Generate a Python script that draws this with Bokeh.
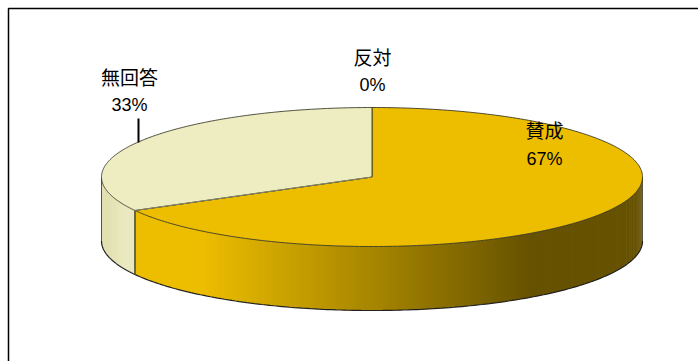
import numpy as np
from bokeh.plotting import figure
from bokeh.models import Range1d
from bokeh.core.properties import value
from bokeh.embed import file_html
from bokeh.resources import INLINE

# ---- data ----
categories = ["賛成", "反対", "無回答"]
shares = [67, 0, 33]
pct_labels = ["67%", "0%", "33%"]
top_colors = ["#EDBE00", "#C00000", "#EEEDC1"]
side_bright = [(237, 190, 0), (192, 0, 0), (236, 235, 195)]
side_dark = [(102, 82, 0), (96, 0, 0), (222, 220, 168)]

# ---- layout ----
W, H = 698, 361
CX, CY, RX, RY, DEPTH = 371.5, 176.5, 270.5, 69.5, 64
label_pos = [(544, 129, 158), (372, 56, 84), (129, 76, 104)]

p = figure(width=W, height=H, x_range=Range1d(0, W), y_range=Range1d(H, 0),
           output_backend="svg", toolbar_location=None, min_border=0)
p.axis.visible = False
p.grid.visible = False
p.outline_line_color = None
p.background_fill_color = "white"
p.border_fill_color = "white"

# chart frame
p.line([8, 8, 720], [380, 8, 8], line_color="black", line_width=1.5)


def ex(a):
    return CX + RX * np.cos(np.radians(a))


def ey(a, d=0.0):
    return CY - RY * np.sin(np.radians(a)) + d


# slice angles (math degrees, clockwise from top)
starts, ends = [], []
a = 90.0
for s in shares:
    starts.append(a)
    a = a - s / 100 * 360
    ends.append(a)

# ---- sides (front half only) ----
sxs, sys_, scol = [], [], []
for i, (a0, a1) in enumerate(zip(starts, ends)):
    if a0 == a1:
        continue
    for k in (-1, 0, 1):
        lo, hi = -180 + 360 * k, 0 + 360 * k
        b0, b1 = max(a1, lo), min(a0, hi)
        if b1 <= b0:
            continue
        n = max(2, int((b1 - b0) * 2))
        angs = np.linspace(b0, b1, n + 1)
        for j in range(n):
            t0 = angs[j]
            t1 = min(angs[j + 1] + (b1 - b0) / n * 0.8, b1)
            xs = [ex(t0), ex(t1), ex(t1), ex(t0)]
            ys = [ey(t0), ey(t1), ey(t1, DEPTH), ey(t0, DEPTH)]
            xm = (ex(angs[j]) + ex(angs[j + 1])) / 2
            if i == 0:
                t = np.clip((xm - 200) / (530 - 200), 0, 1)
            else:
                t = 1 - np.clip((xm - ex(-180)) / 20, 0, 1) * 0.8
            c = tuple(int(round(side_bright[i][q] + (side_dark[i][q] - side_bright[i][q]) * t)) for q in range(3))
            sxs.append(xs)
            sys_.append(ys)
            scol.append("#%02x%02x%02x" % c)

p.patches(sxs, sys_, fill_color=scol, line_color=None)

# side outlines
bang = np.linspace(-180, 0, 200)
p.line(ex(bang), ey(bang, DEPTH), line_color="#222222", line_width=1.2)
for a_edge in (-180, 0):
    p.line([ex(a_edge), ex(a_edge)], [ey(a_edge), ey(a_edge, DEPTH)], line_color="#555544", line_width=1)
for a_edge in ends:
    m = ((a_edge + 180) % 360) - 180
    if -180 < m < 0:
        p.line([ex(m), ex(m)], [ey(m), ey(m, DEPTH)], line_color="#555533", line_width=1.2)

# ---- top slices ----
txs, tys, tcol = [], [], []
for i, (a0, a1) in enumerate(zip(starts, ends)):
    if a0 == a1:
        continue
    angs = np.linspace(a0, a1, 240)
    txs.append([CX] + list(ex(angs)))
    tys.append([CY] + list(ey(angs)))
    tcol.append(top_colors[i])
p.patches(txs, tys, fill_color=tcol, line_color="#333322", line_width=1, line_alpha=0.85)

# zero slice edge
for i, (a0, a1) in enumerate(zip(starts, ends)):
    if a0 == a1:
        p.line([CX, ex(a0)], [CY, ey(a0)], line_color="#888866", line_width=1)

# ---- labels ----
for i, cat in enumerate(categories):
    lx, ly1, ly2 = label_pos[i]
    p.text([lx], [ly1], text=[cat], text_align="center", text_baseline="middle",
           text_font=value("Noto Sans CJK JP"), text_font_size="19px", text_color="black")
    p.text([lx], [ly2], text=[pct_labels[i]], text_align="center", text_baseline="middle",
           text_font=value("Liberation Sans"), text_font_size="18px", text_color="black")

# leader line for 無回答
p.line([138, 138], [118, 142], line_color="black", line_width=2)

open("out.html", "w").write(file_html(p, INLINE))
